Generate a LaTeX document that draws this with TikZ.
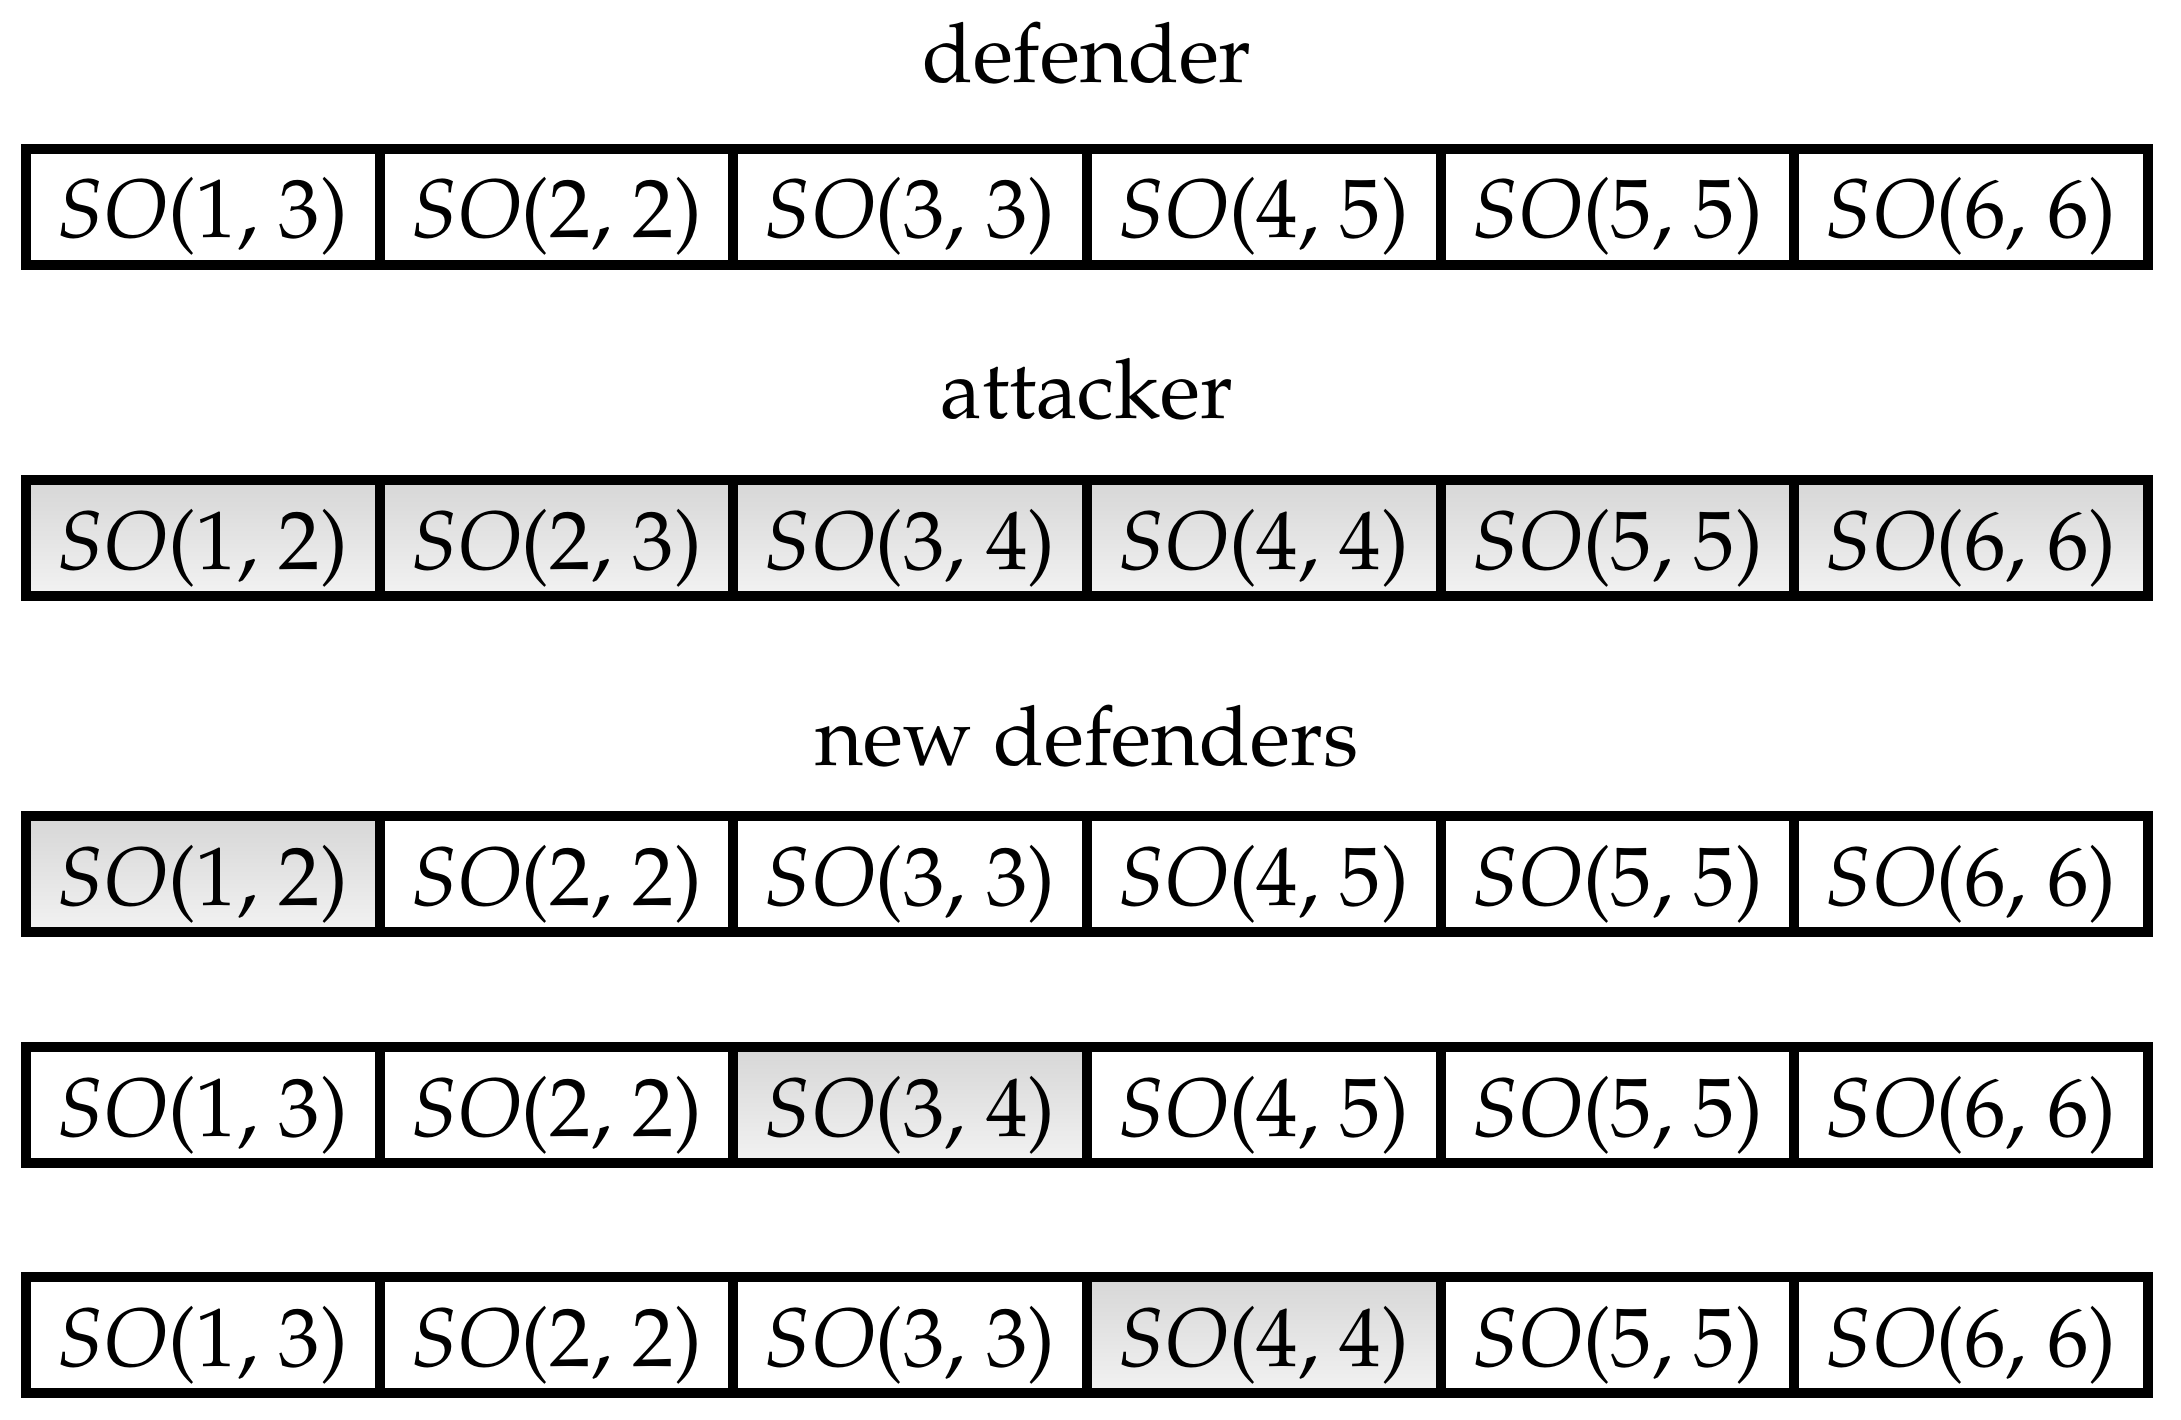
\documentclass[tikz,border=0pt]{standalone}
\usepackage[T1]{fontenc}
\usepackage{mathpazo}
\tikzset{
  cell/.style={draw=black, line width=10pt, minimum width=353.67pt, minimum height=116pt,
    inner sep=0pt, text height=62pt, text depth=0pt, font=\fontsize{83}{96}\selectfont},
  shaded cell/.style={cell, top color=black!16, bottom color=black!5},
  plain cell/.style={cell, fill=white},
  title/.style={anchor=base, inner sep=0pt, font=\fontsize{83}{96}\selectfont}
}
\newcommand\solabel[2]{\textit{SO}(#1, #2)}
\begin{document}
\begin{tikzpicture}[x=1pt,y=-1pt]
\useasboundingbox (0,0) rectangle (2181,1420);
% titles
\node[title] (t1) at (1087,83) {defender};
\node[title] (t2) at (1087,418) {attacker};
\node[title] (t3) at (1087,765) {new defenders};
% row 1
\foreach \i/\a/\b in {1/1/3,2/2/2,3/3/3,4/4/5,5/5/5,6/6/6}
  \node[plain cell] (r1c\i) at ({26+353.67*\i-176.835},207) {\solabel{\a}{\b}};
% row 2
\foreach \i/\a/\b in {1/1/2,2/2/3,3/3/4,4/4/4,5/5/5,6/6/6}
  \node[shaded cell] (r2c\i) at ({26+353.67*\i-176.835},538) {\solabel{\a}{\b}};
% row 3
\foreach \i/\a/\b/\s in {1/1/2/shaded,2/2/2/plain,3/3/3/plain,4/4/5/plain,5/5/5/plain,6/6/6/plain}
  \node[\s\space cell] (r3c\i) at ({26+353.67*\i-176.835},874) {\solabel{\a}{\b}};
% row 4
\foreach \i/\a/\b/\s in {1/1/3/plain,2/2/2/plain,3/3/4/shaded,4/4/5/plain,5/5/5/plain,6/6/6/plain}
  \node[\s\space cell] (r4c\i) at ({26+353.67*\i-176.835},1105) {\solabel{\a}{\b}};
% row 5
\foreach \i/\a/\b/\s in {1/1/3/plain,2/2/2/plain,3/3/3/plain,4/4/4/shaded,5/5/5/plain,6/6/6/plain}
  \node[\s\space cell] (r5c\i) at ({26+353.67*\i-176.835},1335) {\solabel{\a}{\b}};
\end{tikzpicture}
\end{document}
